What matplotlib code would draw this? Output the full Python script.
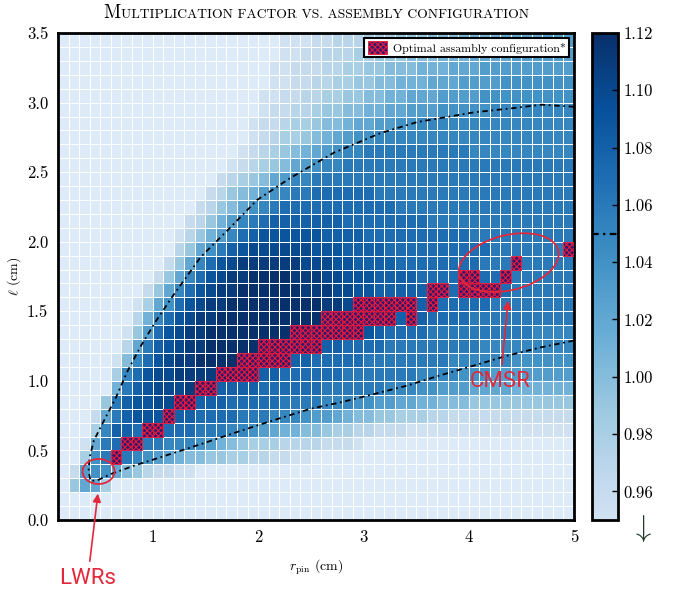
import numpy as np
import matplotlib
matplotlib.use("Agg")
import matplotlib.pyplot as plt
import matplotlib.transforms as mtransforms
from matplotlib.colors import ListedColormap
from matplotlib.patches import Ellipse
from matplotlib.ticker import FormatStrFormatter
from matplotlib.offsetbox import TextArea, HPacker, AnnotationBbox

plt.rcParams['font.family'] = ['cmr10']
plt.rcParams['mathtext.fontset'] = 'cm'
plt.rcParams['axes.formatter.use_mathtext'] = True
plt.rcParams['hatch.linewidth'] = 0.8

# multiplication factor, one string per row of 0.1 x 0.1 cells
# rows: l = 0.0 .. 3.4 (bottom to top), columns: r_pin = 0.1 .. 4.9
# '.' = below 0.95, '0' = 0.95, '1' = 0.96 ... 'h' = 1.12
LEVEL_CHARS = "0123456789abcdefgh"
K_ROWS = [
    "." * 49,
    "." * 49,
    ".4773" + "." * 44,
    ".189975421100" + "." * 36,
    "..39bbba9876554433221100" + "." * 25,
    "..07bcddbbaaa9865433322221110" + "." * 20,
    "...3addcddcccbbbaa987665543322111" + "0" * 16,
    "...17bdeeeeddccccbbbaaa98876554433322" + "1" * 12,
    "....4bdeeffffdddcccccbbbbaaa99887766555" + "4" * 10,
    ".....6bdefffgggddddccccccbbbbbbaaa998887777666666",
    ".....3aceffggggggggddccccccbbbbbbbaaaa99988888888",
    ".....05acefgghhhhhhhhhddcccccbbbbbbbbaaaaaa999999",
    "......27bdefgghhhhhhhhhhhddccccbbbbbbbbbaaaaaaaaa",
    "......048cefgghhhhhhhh" + "ggggggg" + "ed" + "cccc" + "bbbbbbbbbb" + "aaaa",
    ".......26acefgghhhhhhhhhhgggggggdddccccbbbbbbbbbb",
    ".......0379cefgghhhhhhhhhggfeeeeeeddcccccbbbbbbbb",
    "........147acefgghhhhhhgggffeedddddccccccccbbbbbb",
    ".........147acefgghhhhgggffeeeddddcccccccccbbbbbb",
    "..........147acefggggggfffeeddddccccccccbbbbbbbbb",
    "...........2479bdeffffffeeeddddccccccccccbbbbbbbb",
    "...........02468acdeeeeeeddddccccccccccbbbbbbbbbb",
    "............12468abcdddddddccccccccbbbbbbbbbbbbbb",
    "." * 13 + "124579abccccccccccc" + "b" * 17,
    "." * 14 + "1245689abbcccccc" + "b" * 19,
    "." * 15 + "1234578aa" + "b" * 25,
    "." * 16 + "012345789aa" + "b" * 22,
    "." * 17 + "0123456789aa" + "b" * 10 + "a" * 10,
    "." * 18 + "012334567899" + "a" * 19,
    "." * 18 + "0112334556778899" + "a" * 15,
    "." * 19 + "0112234455667788899999" + "a" * 8,
    "." * 19 + "001122334455667778888" + "9" * 9,
    "." * 20 + "0011223344556667778888" + "9" * 7,
    "." * 20 + "00111223344555666777" + "8" * 9,
    "." * 21 + "0011222334445556667777" + "8" * 6,
    "." * 21 + "0001122233344455566667777888",
]

# optimal configurations: (l of the cell row, r_pin of each cell)
OPT_ROWS = [
    (0.4, [0.6]),
    (0.5, [0.7, 0.8]),
    (0.6, [0.9, 1.0]),
    (0.7, [1.1]),
    (0.8, [1.2, 1.3]),
    (0.9, [1.4, 1.5]),
    (1.0, [1.6, 1.7, 1.8, 1.9]),
    (1.1, [1.8, 1.9, 2.0, 2.1, 2.2]),
    (1.2, [2.0, 2.1, 2.2, 2.3, 2.4, 2.5]),
    (1.3, [2.3, 2.4, 2.5, 2.6, 2.7, 2.8, 2.9]),
    (1.4, [2.6, 2.7, 2.8, 2.9, 3.0, 3.1, 3.2, 3.4]),
    (1.5, [2.9, 3.0, 3.1, 3.2, 3.3, 3.4, 3.6]),
    (1.6, [3.6, 3.7, 3.9, 4.0, 4.1, 4.2]),
    (1.7, [3.9, 4.0, 4.3]),
    (1.8, [4.4]),
    (1.9, [4.9]),
]

# k = 1.05 iso-line
k105_r = [5.0, 4.69, 4.42, 4.05, 3.51, 3.16, 2.72, 2.31, 1.99, 1.74, 1.455, 1.19,
          1.03, 0.886, 0.76, 0.65, 0.52, 0.44, 0.40, 0.39, 0.41, 0.476, 0.60, 0.82,
          1.11, 1.455, 1.83, 2.18, 2.50, 2.78, 3.10, 3.41, 3.73, 4.05, 4.36, 4.68, 5.0]
k105_l = [2.97, 2.985, 2.96, 2.93, 2.86, 2.78, 2.64, 2.46, 2.30, 2.105, 1.89, 1.61,
          1.43, 1.25, 1.07, 0.88, 0.69, 0.57, 0.45, 0.35, 0.28, 0.286, 0.33, 0.39,
          0.46, 0.545, 0.64, 0.725, 0.80, 0.845, 0.905, 0.965, 1.04, 1.11, 1.18, 1.24, 1.29]

cbar_ticks = [0.96, 0.98, 1.00, 1.02, 1.04, 1.06, 1.08, 1.10, 1.12]

RED = '#e2283a'

for row in K_ROWS:
    assert len(row) == 49, row


def decode(row):
    return [0.94 if c == '.' else 0.95 + 0.01 * LEVEL_CHARS.index(c) for c in row]


k_grid = np.array([decode(row) for row in K_ROWS])
r_edges = np.round(np.arange(0.1, 5.05, 0.1), 2)
l_edges = np.round(np.arange(0.0, 3.55, 0.1), 2)

blues = plt.get_cmap('Blues')
cmap = ListedColormap(blues(np.linspace(0.2, 1.0, 256)))
cmap.set_under(blues(0.13))

fig = plt.figure(figsize=(6.8, 5.91), dpi=100)
ax = fig.add_axes([0.0853, 0.1201, 0.7588, 0.8240])
cax = fig.add_axes([0.8706, 0.1201, 0.0382, 0.8240])

mesh = ax.pcolormesh(r_edges, l_edges, k_grid, cmap=cmap, vmin=0.95, vmax=1.12,
                     edgecolors='white', linewidth=0.7)

opt_l = [l for l, rs in OPT_ROWS for _ in rs]
opt_r = [r for _, rs in OPT_ROWS for r in rs]
bars = ax.bar(opt_r, [0.1] * len(opt_r), width=0.1, bottom=opt_l, align='edge',
              facecolor='#2c1a6c', edgecolor='#e8173c', hatch='xxxxxx', linewidth=0.6,
              label='Optimal assambly configuration*', zorder=3)

ax.plot(k105_r, k105_l, color='black', lw=1.3, ls=(0, (3, 2, 1, 2)), zorder=4)

ax.set_xlim(0.1, 5.0)
ax.set_ylim(0.0, 3.5)
ax.set_xticks([1, 2, 3, 4, 5])
ax.set_yticks([0.0, 0.5, 1.0, 1.5, 2.0, 2.5, 3.0, 3.5])
ax.xaxis.set_major_formatter(FormatStrFormatter('%d'))
ax.yaxis.set_major_formatter(FormatStrFormatter('%.1f'))
ax.tick_params(length=0, labelsize=12, pad=7)
for s in ax.spines.values():
    s.set_linewidth(2)
ax.set_xlabel(r'$r_{\rm pin}$ (cm)', fontsize=10, labelpad=9)
ax.set_ylabel(r'$\ell$ (cm)', fontsize=10, labelpad=3)

# small-caps title
title = HPacker(children=[
    TextArea("M", textprops=dict(size=13.5, family='cmr10')),
    TextArea("ULTIPLICATION FACTOR VS. ASSEMBLY CONFIGURATION",
             textprops=dict(size=9.8, family='cmr10')),
], align='baseline', pad=0, sep=0)
ax.add_artist(AnnotationBbox(title, (0.5, 1.0), xycoords='axes fraction',
                             box_alignment=(0.5, 0.0), xybox=(0, 8),
                             boxcoords='offset points', frameon=False,
                             annotation_clip=False))

leg = ax.legend(handles=[bars], loc='upper right', prop=dict(family='cmr10', size=8.6),
                fancybox=False, edgecolor='black', framealpha=1, borderaxespad=0.4,
                handlelength=1.6, handleheight=1.2, borderpad=0.3, handletextpad=0.5)
leg.get_frame().set_linewidth(1.5)


def px_ellipse(cx, cy, w_px, h_px, angle):
    tr = fig.dpi_scale_trans + mtransforms.ScaledTranslation(cx, cy, ax.transData)
    ax.add_patch(Ellipse((0, 0), w_px / 100, h_px / 100, angle=angle, transform=tr,
                         fill=False, ec=RED, lw=1.3, zorder=5))


px_ellipse(0.485, 0.349, 32, 25, 0)
px_ellipse(4.38, 1.85, 102, 55, 14)

arrow = dict(arrowstyle='-|>', color=RED, lw=1.2, mutation_scale=12, shrinkA=3, shrinkB=0)
ax.annotate('LWRs', xy=(0.479, 0.19), xytext=(0.129, 0.021), textcoords='figure fraction',
            ha='center', va='center', color=RED, fontsize=16,
            family=['Roboto', 'DejaVu Sans'],
            arrowprops=arrow, annotation_clip=False, zorder=6)
ax.annotate('CMSR', xy=(4.374, 1.577), xytext=(4.30, 0.994),
            ha='center', va='center', color=RED, fontsize=16,
            family=['Roboto', 'DejaVu Sans'],
            arrowprops=arrow, zorder=6)

cb = fig.colorbar(mesh, cax=cax, ticks=cbar_ticks)
cb.ax.yaxis.set_major_formatter(FormatStrFormatter('%.2f'))
cb.ax.tick_params(direction='in', length=4, width=1, labelsize=12, pad=4)
cb.outline.set_linewidth(2)
cax.axhline(1.05, color='black', lw=1.6, ls=(0, (3, 2, 1, 2)))
fig.text(641 / 680, 1 - 528 / 591, r'$\downarrow$', ha='center', va='center',
         fontsize=22, color='#1f3a28')

fig.savefig('out.png', dpi=100)
